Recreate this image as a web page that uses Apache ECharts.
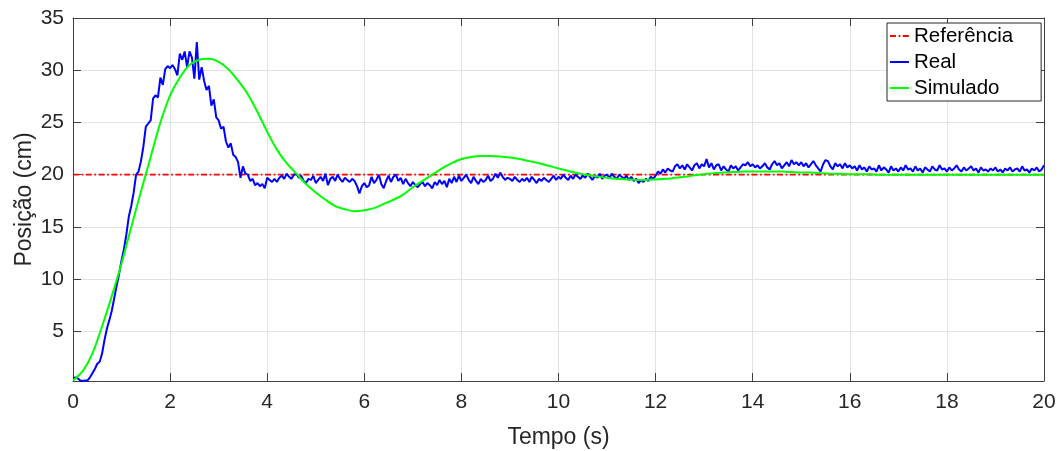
<!DOCTYPE html>
<html>
<head>
<meta charset="utf-8">
<title>Posição - resposta ao degrau</title>
<script src="https://cdn.jsdelivr.net/npm/echarts@6/dist/echarts.min.js"></script>
<style>
  html, body { margin: 0; padding: 0; background: #ffffff; }
  #chart { width: 1060px; height: 451px; }
</style>
</head>
<body>
<div id="chart"></div>
<script>
// Reference set-point (cm)
const refTime = [0, 20];
const refPos = [20, 20];

// Measured position, sampled every 0.05 s from t = 0 to t = 20 s (cm)
const REAL_DT = 0.05;
const realPos = [
  0.5,0.6,0.5,0.3,0.25,0.3,0.3,0.6,1.0,1.4,1.9,2.1,2.9,4.2,5.3,6.1,7.0,8.2,9.4,10.5,
  11.8,12.9,14.3,16.0,17.0,18.3,20.0,20.3,21.3,22.7,24.6,24.9,25.2,27.3,27.6,27.4,29.3,28.6,30.1,30.4,
  30.2,30.5,30.1,29.5,31.6,31.0,31.8,30.3,31.8,31.2,29.2,32.7,29.1,30.3,29.0,28.1,28.5,26.6,27.2,25.5,
  25.2,24.4,24.6,23.2,22.6,23.0,21.9,21.7,21.2,19.7,20.8,20.1,20.0,19.4,19.6,19.0,19.2,18.9,19.1,18.7,
  19.7,19.5,19.3,19.6,19.3,19.7,19.9,19.6,20.1,19.8,19.6,20.0,20.1,19.7,19.9,19.4,19.2,19.6,19.5,19.9,
  19.2,19.5,19.8,19.4,20.1,19.0,19.6,19.8,19.4,20.0,19.6,19.3,19.7,19.5,19.3,19.6,19.4,18.9,18.2,18.9,
  19.2,18.8,19.0,19.8,19.2,19.5,20.0,19.1,18.7,19.4,19.9,19.3,19.8,20.0,19.4,19.7,19.1,19.6,19.2,18.9,
  19.3,19.0,18.8,19.1,19.3,18.9,19.2,19.0,18.7,19.3,19.0,19.5,19.1,19.4,18.8,19.6,19.2,19.8,19.3,19.9,
  19.4,19.7,20.0,19.5,19.2,19.8,19.4,19.1,19.6,19.3,19.5,19.9,19.4,19.6,20.1,19.7,20.2,19.8,19.5,19.7,
  19.6,19.4,19.8,19.5,19.3,19.6,19.4,19.7,19.3,19.8,19.5,19.2,19.6,19.4,19.7,19.5,19.3,19.6,19.9,19.5,
  19.8,19.6,20.0,19.7,19.5,19.9,19.6,20.0,19.8,19.6,19.9,19.7,20.1,19.8,19.5,19.9,19.7,20.1,19.6,19.9,
  20.0,19.7,20.1,19.8,19.6,20.0,19.8,19.6,19.9,19.5,19.8,19.4,19.6,19.2,19.5,19.3,19.6,19.4,19.8,19.6,
  19.9,20.3,20.1,20.5,20.2,20.6,20.4,20.3,20.8,21.0,20.6,20.9,20.5,21.0,20.7,20.4,20.9,21.1,20.6,21.0,
  20.8,21.5,20.7,21.1,20.5,20.9,21.0,20.4,20.8,20.5,20.3,20.9,20.6,20.8,20.4,20.7,21.0,20.9,21.2,20.8,
  21.0,20.7,20.9,20.6,20.8,21.1,20.7,20.5,21.0,21.3,20.9,21.1,20.6,20.9,21.2,20.8,21.4,21.0,21.2,20.9,
  21.2,20.8,21.1,20.7,21.0,21.3,20.9,20.6,20.3,21.0,21.4,21.3,20.8,20.5,21.1,20.8,21.0,20.6,21.1,20.7,
  20.9,20.6,20.8,20.4,20.9,20.5,20.7,20.3,20.8,20.5,20.6,20.3,20.9,20.4,20.7,20.5,20.2,20.8,20.4,20.6,
  20.3,20.7,20.4,20.9,20.5,20.6,20.3,20.8,20.4,20.6,20.2,20.7,20.5,20.3,20.8,20.5,20.4,20.9,20.5,20.6,
  20.3,20.7,20.4,20.6,20.9,20.5,20.3,20.7,20.4,20.6,20.8,20.4,20.6,20.2,20.7,20.4,20.5,20.3,20.6,20.4,
  20.7,20.3,20.5,20.2,20.6,20.4,20.7,20.3,20.5,20.6,20.3,20.8,20.4,20.5,20.2,20.6,20.4,20.7,20.3,20.5,
  20.9
];

// Simulated model response, sampled every 0.2 s from t = 0 to t = 20 s (cm)
const SIM_DT = 0.2;
const simPos = [
  0.3,1.2,2.9,5.5,8.4,11.5,15.0,18.4,21.7,25.0,
  27.6,29.3,30.5,31.0,31.1,30.8,30.1,29.0,27.7,26.0,
  24.1,22.4,21.1,20.1,19.1,18.3,17.6,17.0,16.7,16.5,
  16.6,16.8,17.2,17.6,18.1,18.8,19.4,20.0,20.6,21.1,
  21.5,21.7,21.8,21.8,21.75,21.65,21.5,21.3,21.1,20.85,
  20.6,20.35,20.15,19.97,19.83,19.7,19.6,19.55,19.5,19.5,
  19.55,19.6,19.7,19.8,19.95,20.05,20.15,20.2,20.25,20.3,
  20.3,20.3,20.3,20.3,20.25,20.2,20.2,20.15,20.1,20.1,
  20.05,20.05,20.05,20.0,20.0,20.0,20.0,20.0,20.0,20.0,
  20.0,20.0,20.0,20.0,20.0,20.0,20.0,20.0,20.0,20.0,
  20.0
];

// Axis ticks
const xTicks = [0, 2, 4, 6, 8, 10, 12, 14, 16, 18, 20];
const yTicks = [5, 10, 15, 20, 25, 30, 35];

const FONT = '"Liberation Sans", Arial, Helvetica, sans-serif';
const AXIS_COLOR = '#404040';
const TEXT_COLOR = '#262626';
const GRID_COLOR = '#e2e2e2';

const refData = refTime.map((t, i) => [t, refPos[i]]);
const realData = realPos.map((v, i) => [+(i * REAL_DT).toFixed(2), v]);
const simData = simPos.map((v, i) => [+(i * SIM_DT).toFixed(2), v]);

const chart = echarts.init(document.getElementById('chart'), null, { renderer: 'canvas' });

const baseX = {
  type: 'value', min: 0, max: 20, interval: 2,
  axisLine: { show: true, onZero: false, lineStyle: { color: AXIS_COLOR, width: 1 } },
  axisTick: { show: true, inside: true, length: 8, lineStyle: { color: AXIS_COLOR } }
};
const baseY = {
  type: 'value', min: 0.25, max: 35,
  axisLine: { show: true, onZero: false, lineStyle: { color: AXIS_COLOR, width: 1 } },
  axisTick: { show: true, inside: true, length: 8, customValues: yTicks, lineStyle: { color: AXIS_COLOR } }
};

chart.setOption({
  animation: false,
  backgroundColor: '#ffffff',
  textStyle: { fontFamily: FONT },
  grid: { left: 73, right: 16, top: 18, bottom: 70, containLabel: false, outerBoundsMode: 'none' },
  xAxis: [
    Object.assign({}, baseX, {
      position: 'bottom',
      name: 'Tempo (s)', nameLocation: 'middle', nameGap: 45, nameMoveOverlap: false,
      nameTextStyle: { fontFamily: FONT, fontSize: 23, color: TEXT_COLOR },
      axisLabel: { show: true, customValues: xTicks, margin: 11, fontFamily: FONT, fontSize: 21, color: TEXT_COLOR },
      splitLine: { show: true, lineStyle: { color: GRID_COLOR, width: 1 } }
    }),
    Object.assign({}, baseX, {
      position: 'top',
      axisLabel: { show: false },
      splitLine: { show: false }
    })
  ],
  yAxis: [
    Object.assign({}, baseY, {
      position: 'left',
      name: 'Posição (cm)', nameLocation: 'middle', nameGap: 37, nameRotate: 90, nameMoveOverlap: false,
      nameTextStyle: { fontFamily: FONT, fontSize: 23, color: TEXT_COLOR },
      axisLabel: { show: true, customValues: yTicks, margin: 9, fontFamily: FONT, fontSize: 21, color: TEXT_COLOR },
      splitLine: { show: true, lineStyle: { color: GRID_COLOR, width: 1 } }
    }),
    Object.assign({}, baseY, {
      position: 'right',
      axisLabel: { show: false },
      splitLine: { show: false }
    })
  ],
  legend: {
    orient: 'vertical',
    left: 887, top: 23,
    padding: [1, 28, 1, 2],
    itemGap: 2,
    itemWidth: 19, itemHeight: 14,
    backgroundColor: '#ffffff',
    borderColor: '#262626', borderWidth: 1, borderRadius: 0,
    itemStyle: { opacity: 0 },
    textStyle: { fontFamily: FONT, fontSize: 20.5, color: '#000000', lineHeight: 24 },
    data: ['Referência', 'Real', 'Simulado']
  },
  series: [
    {
      name: 'Referência', type: 'line', xAxisIndex: 0, yAxisIndex: 0,
      data: refData, symbol: 'none', showSymbol: false,
      lineStyle: { color: '#ff0000', width: 1.8, type: [6, 2.5, 1.8, 2.5] },
      itemStyle: { color: '#ff0000' }
    },
    {
      name: 'Real', type: 'line', xAxisIndex: 0, yAxisIndex: 0,
      data: realData, symbol: 'none', showSymbol: false,
      lineStyle: { color: '#0000ff', width: 2 },
      itemStyle: { color: '#0000ff' }
    },
    {
      name: 'Simulado', type: 'line', xAxisIndex: 0, yAxisIndex: 0,
      data: simData, symbol: 'none', showSymbol: false, smooth: 0.3,
      lineStyle: { color: '#00ff00', width: 2 },
      itemStyle: { color: '#00ff00' }
    }
  ]
});
</script>
</body>
</html>
